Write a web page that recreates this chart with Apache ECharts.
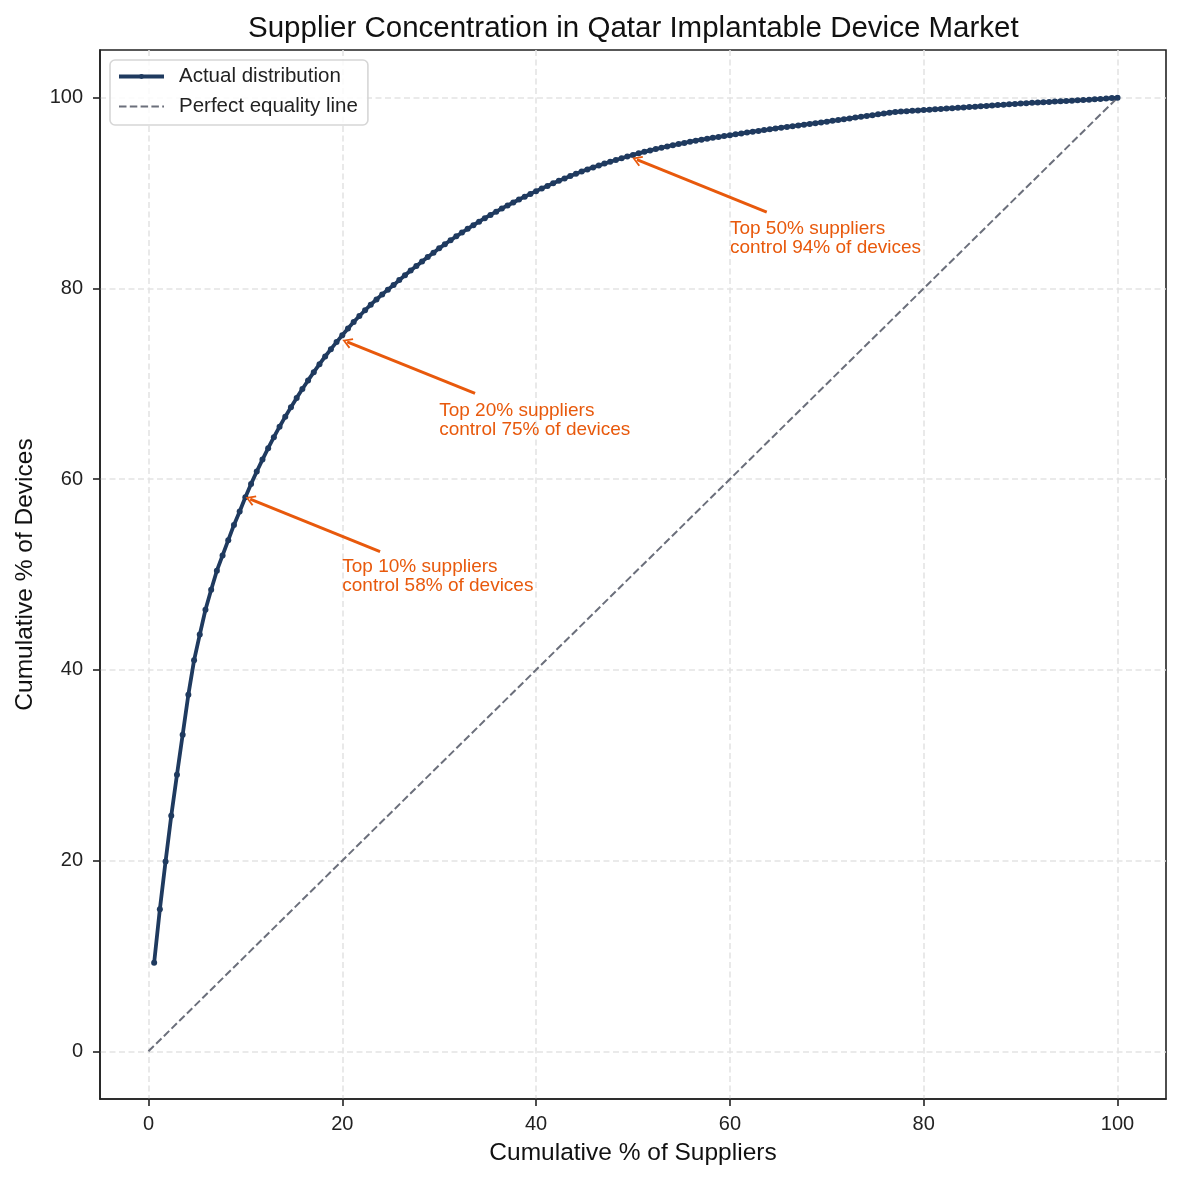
<!DOCTYPE html>
<html>
<head>
<meta charset="utf-8">
<script src="https://cdn.jsdelivr.net/npm/echarts@6/dist/echarts.min.js"></script>
<style>
  html, body { margin: 0; padding: 0; background: #fff; }
  #chart { width: 1181px; height: 1181px; }
</style>
</head>
<body>
<div id="chart"></div>
<script>
// cumulative share of devices (%), suppliers ranked largest first (170 suppliers)
const cumDevicePct = [
  9.3, 14.9, 19.9, 24.7, 29.0, 33.2, 37.4, 41.0, 43.7, 46.3,
  48.4, 50.4, 52.0, 53.6, 55.2, 56.6, 58.1, 59.5, 60.8, 62.05,
  63.25, 64.4, 65.5, 66.55, 67.55, 68.52, 69.45, 70.35, 71.22, 72.06,
  72.86, 73.63, 74.37, 75.09, 75.79, 76.47, 77.11, 77.71, 78.29, 78.84,
  79.37, 79.87, 80.35, 80.87, 81.38, 81.87, 82.35, 82.82, 83.29, 83.75,
  84.2, 84.63, 85.05, 85.46, 85.86, 86.25, 86.63, 87.0, 87.36, 87.71,
  88.05, 88.38, 88.7, 89.01, 89.32, 89.62, 89.91, 90.2, 90.48, 90.75,
  91.02, 91.28, 91.53, 91.78, 92.02, 92.26, 92.48, 92.69, 92.89, 93.09,
  93.28, 93.47, 93.65, 93.83, 94.0, 94.16, 94.32, 94.47, 94.61, 94.75,
  94.89, 95.02, 95.14, 95.26, 95.38, 95.49, 95.59, 95.69, 95.79, 95.89,
  95.98, 96.07, 96.16, 96.25, 96.34, 96.43, 96.51, 96.6, 96.68, 96.77,
  96.85, 96.93, 97.01, 97.09, 97.17, 97.25, 97.33, 97.41, 97.48, 97.57,
  97.65, 97.74, 97.82, 97.91, 97.99, 98.08, 98.16, 98.25, 98.33, 98.42,
  98.5, 98.54, 98.58, 98.62, 98.66, 98.7, 98.74, 98.78, 98.82, 98.86,
  98.9, 98.94, 98.98, 99.02, 99.06, 99.1, 99.14, 99.18, 99.22, 99.26,
  99.3, 99.34, 99.38, 99.42, 99.46, 99.49, 99.52, 99.55, 99.59, 99.62,
  99.65, 99.69, 99.72, 99.75, 99.79, 99.83, 99.87, 99.91, 99.96, 100.0
];
// cumulative % of suppliers for each ranked supplier
const supplierPct = cumDevicePct.map((v, i) => ((i + 1) * 100) / cumDevicePct.length);

const equalityX = [0, 100];
const equalityY = [0, 100];
const tickValues = [0, 20, 40, 60, 80, 100];

// annotations (data coords): arrow tail, arrow head, text anchor
const noteTail = [[23.9, 52.4], [33.7, 69.0], [63.8, 88.0]];
const noteHead = [[10.5, 57.9], [20.5, 74.4], [50.4, 93.5]];
const noteAt = [[20, 49.8], [30, 66.2], [60, 85.3]];
const noteText = [
  'Top 10% suppliers\ncontrol 58% of devices',
  'Top 20% suppliers\ncontrol 75% of devices',
  'Top 50% suppliers\ncontrol 94% of devices'
];

const navy = '#1f3a5f';
const grey = '#6b6f7b';
const orange = '#e8590c';
const font = '"Liberation Sans", Arial, Helvetica, sans-serif';
const arrowHead = 'path://M5,0 L10,9 L8.6,10 L5,3.2 L1.4,10 L0,9 Z';

const chart = echarts.init(document.getElementById('chart'));

const axisCommon = {
  type: 'value',
  min: -5,
  max: 105,
  nameLocation: 'middle',
  nameTextStyle: { fontSize: 24.5, color: '#111', fontFamily: font },
  axisLine: { show: true, onZero: false, lineStyle: { color: '#222', width: 1.6 } },
  axisTick: { show: true, length: 7, lineStyle: { color: '#222', width: 1.6 }, customValues: tickValues },
  axisLabel: { fontSize: 20, color: '#222', fontFamily: font, customValues: tickValues },
  splitLine: { show: true, lineStyle: { color: '#e4e4e4', width: 1.6, type: [6, 3.5] } }
};

chart.setOption({
  animation: false,
  textStyle: { fontFamily: font },
  title: {
    text: 'Supplier Concentration in Qatar Implantable Device Market',
    left: 243,
    top: 9,
    textStyle: { fontSize: 29.5, fontWeight: 'normal', color: '#111', fontFamily: font }
  },
  legend: {
    left: 110,
    top: 60,
    orient: 'vertical',
    data: [
      { name: 'Actual distribution', lineStyle: { width: 4 } },
      { name: 'Perfect equality line', lineStyle: { width: 2 }, itemStyle: { color: 'rgba(0,0,0,0)', borderWidth: 0 } }
    ],
    itemWidth: 45,
    itemHeight: 6,
    itemGap: 9,
    padding: [6, 10, 8, 7],
    backgroundColor: 'rgba(255,255,255,0.85)',
    borderColor: '#d6d6d6',
    borderWidth: 1.6,
    borderRadius: 5,
    textStyle: { fontSize: 20.5, lineHeight: 20, color: '#222', padding: [0, 0, 0, 10] }
  },
  grid: {
    left: 100,
    right: 15,
    top: 50,
    bottom: 82,
    show: true,
    borderColor: '#222',
    borderWidth: 1.6,
    outerBoundsMode: 'none'
  },
  xAxis: Object.assign({}, axisCommon, {
    name: 'Cumulative % of Suppliers',
    nameGap: 42,
    axisLabel: Object.assign({}, axisCommon.axisLabel, { margin: 15 })
  }),
  yAxis: Object.assign({}, axisCommon, {
    name: 'Cumulative % of Devices',
    nameGap: 62,
    axisLabel: Object.assign({}, axisCommon.axisLabel, { margin: 17 })
  }),
  series: [
    {
      name: 'Perfect equality line',
      type: 'line',
      data: equalityX.map((x, i) => [x, equalityY[i]]),
      symbol: 'none',
      lineStyle: { color: grey, width: 2, type: [7.5, 3.3] },
      itemStyle: { color: grey },
      z: 2
    },
    {
      name: 'Actual distribution',
      type: 'line',
      data: supplierPct.map((x, i) => [x, cumDevicePct[i]]),
      symbol: 'circle',
      symbolSize: 6,
      showAllSymbol: true,
      lineStyle: { color: navy, width: 3.8 },
      itemStyle: { color: navy },
      z: 3
    },
    {
      name: 'notes',
      type: 'line',
      data: [],
      silent: true,
      markLine: {
        silent: true,
        symbol: ['none', arrowHead],
        symbolSize: [11, 10],
        lineStyle: { color: orange, width: 3, type: 'solid' },
        label: { show: false },
        emphasis: { disabled: true },
        data: noteTail.map((t, i) => [{ coord: t }, { coord: noteHead[i] }])
      },
      markPoint: {
        silent: true,
        symbol: 'circle',
        symbolSize: 0,
        data: noteAt.map((c, i) => ({
          coord: c,
          label: {
            show: true,
            position: [0, 0],
            align: 'left',
            verticalAlign: 'middle',
            formatter: noteText[i],
            fontSize: 19,
            lineHeight: 19,
            color: orange,
            fontFamily: font
          }
        }))
      },
      z: 4
    }
  ]
});
</script>
</body>
</html>
